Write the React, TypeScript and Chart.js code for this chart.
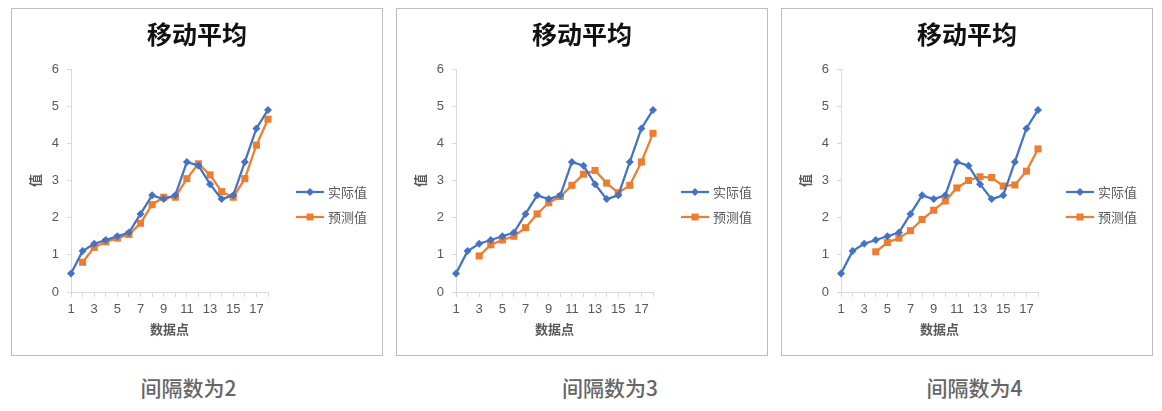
import { useEffect, useRef } from 'react';
import { Chart, registerables } from 'chart.js';

Chart.register(...registerables);

// data points 1..18
const pointLabels = ['1', '2', '3', '4', '5', '6', '7', '8', '9', '10', '11', '12', '13', '14', '15', '16', '17', '18'];
const actualValues = [0.5, 1.1, 1.3, 1.4, 1.5, 1.6, 2.1, 2.6, 2.5, 2.6, 3.5, 3.4, 2.9, 2.5, 2.6, 3.5, 4.4, 4.9];
// moving-average forecasts
const forecast2 = [null, 0.8, 1.2, 1.35, 1.45, 1.55, 1.85, 2.35, 2.55, 2.55, 3.05, 3.45, 3.15, 2.7, 2.55, 3.05, 3.95, 4.65];
const forecast3 = [null, null, 0.97, 1.27, 1.4, 1.5, 1.73, 2.1, 2.4, 2.57, 2.87, 3.17, 3.27, 2.93, 2.67, 2.87, 3.5, 4.27];
const forecast4 = [null, null, null, 1.08, 1.33, 1.45, 1.65, 1.95, 2.2, 2.45, 2.8, 3.0, 3.1, 3.08, 2.85, 2.88, 3.25, 3.85];
const seriesNames = ['实际值', '预测值'];
const chartTitle = '移动平均';
const xTitle = '数据点';
const yTitle = '值';
const captions = ['间隔数为2', '间隔数为3', '间隔数为4'];

const BLUE = '#4472C4';
const ORANGE = '#ED7D31';
const AXIS = '#d9d9d9';
const TEXT = '#595959';
const FONT = "'Liberation Sans', 'Noto Sans CJK SC', sans-serif";

// title centred on the whole canvas, legend drawn as Excel-style line + marker
const excelDecor = {
  id: 'excelDecor',
  afterDraw(chart: Chart) {
    const { ctx, chartArea } = chart;
    ctx.save();
    ctx.fillStyle = '#111';
    ctx.font = "bold 25px 'Noto Sans CJK SC', sans-serif";
    ctx.textAlign = 'center';
    ctx.textBaseline = 'middle';
    ctx.fillText(chartTitle, chart.width / 2, 25);
    ctx.restore();

    chart.data.datasets.forEach((ds: any, i: number) => {
      const y = chartArea.top + 123 + i * 25;
      const x0 = chartArea.right + 28;
      ctx.save();
      ctx.strokeStyle = ds.borderColor;
      ctx.lineWidth = 2.25;
      ctx.beginPath();
      ctx.moveTo(x0, y);
      ctx.lineTo(x0 + 28, y);
      ctx.stroke();
      ctx.fillStyle = ds.backgroundColor;
      const cx = x0 + 14;
      if (ds.pointStyle === 'rect') {
        ctx.fillRect(cx - 3.5, y - 3.5, 7, 7);
      } else {
        ctx.beginPath();
        ctx.moveTo(cx, y - 4);
        ctx.lineTo(cx + 4, y);
        ctx.lineTo(cx, y + 4);
        ctx.lineTo(cx - 4, y);
        ctx.closePath();
        ctx.fill();
      }
      ctx.fillStyle = TEXT;
      ctx.font = "13px 'Noto Sans CJK SC', sans-serif";
      ctx.textBaseline = 'middle';
      ctx.textAlign = 'left';
      ctx.fillText(ds.label, x0 + 32, y);
      ctx.restore();
    });
  },
};

function MovingAverageChart({ forecast }: { forecast: (number | null)[] }) {
  const chartRef = useRef<HTMLCanvasElement>(null);
  const chartInstance = useRef<Chart | null>(null);

  useEffect(() => {
    if (!chartRef.current) return;
    const ctx = chartRef.current.getContext('2d');
    if (!ctx) return;
    if (chartInstance.current) chartInstance.current.destroy();

    chartInstance.current = new Chart(ctx, {
      type: 'line',
      data: {
        labels: pointLabels,
        datasets: [
          {
            label: seriesNames[0],
            data: actualValues,
            borderColor: BLUE,
            backgroundColor: BLUE,
            borderWidth: 2.25,
            pointStyle: 'rectRot',
            pointRadius: 4,
            pointBorderWidth: 0,
            tension: 0,
          },
          {
            label: seriesNames[1],
            data: forecast,
            borderColor: ORANGE,
            backgroundColor: ORANGE,
            borderWidth: 2.25,
            pointStyle: 'rect',
            pointRadius: 5,
            pointBorderWidth: 0,
            tension: 0,
          },
        ],
      },
      options: {
        responsive: true,
        maintainAspectRatio: false,
        animation: false,
        layout: { padding: { left: 15, right: 114, top: 60, bottom: 18 } },
        plugins: {
          legend: { display: false },
          tooltip: { enabled: false },
          title: { display: false },
        },
        scales: {
          x: {
            type: 'category',
            offset: false,
            afterFit: (scale: any) => {
              scale.height = 45;
            },
            grid: { display: true, drawOnChartArea: false, drawTicks: true, tickLength: 5, color: AXIS, offset: false },
            border: { display: true, color: AXIS, width: 1 },
            ticks: {
              autoSkip: false,
              maxRotation: 0,
              padding: 5,
              color: TEXT,
              font: { family: FONT, size: 13 },
              callback: (_v: any, index: number) => (index % 2 === 0 ? pointLabels[index] : ''),
            },
            title: {
              display: true,
              text: xTitle,
              color: TEXT,
              font: { family: "'Noto Sans CJK SC', sans-serif", size: 13, weight: 'bold', lineHeight: 1.2 },
              padding: { top: 0, bottom: 0 },
            },
          },
          y: {
            min: 0,
            max: 6,
            afterFit: (scale: any) => {
              scale.width = 44;
            },
            grid: { display: true, drawOnChartArea: false, drawTicks: true, tickLength: 4, color: AXIS },
            border: { display: true, color: AXIS, width: 1 },
            ticks: {
              stepSize: 1,
              padding: 8,
              color: TEXT,
              font: { family: FONT, size: 13 },
            },
            title: {
              display: true,
              text: yTitle,
              color: TEXT,
              font: { family: "'Noto Sans CJK SC', sans-serif", size: 13, weight: 'bold', lineHeight: 1.2 },
              padding: { top: 0, bottom: 0 },
            },
          },
        },
      },
      plugins: [excelDecor],
    });

    return () => {
      if (chartInstance.current) {
        chartInstance.current.destroy();
        chartInstance.current = null;
      }
    };
  }, [forecast]);

  return (
    <div style={{ position: 'relative', width: 370, height: 346 }}>
      <canvas ref={chartRef}></canvas>
    </div>
  );
}

const panels = [
  { forecast: forecast2, left: 11, captionX: 188.5 },
  { forecast: forecast3, left: 396, captionX: 610 },
  { forecast: forecast4, left: 781, captionX: 974.5 },
];

export default function App() {
  return (
    <div style={{ position: 'absolute', left: 0, top: 0, width: 1162, height: 411, background: '#fff' }}>
      {panels.map((p, i) => (
        <div key={i}>
          <div
            style={{
              position: 'absolute',
              left: p.left,
              top: 8,
              width: 370,
              height: 346,
              border: '1px solid #bdbdbd',
              background: '#fff',
            }}
          >
            <MovingAverageChart forecast={p.forecast} />
          </div>
          <div
            style={{
              position: 'absolute',
              left: p.captionX - 100,
              top: 375,
              width: 200,
              lineHeight: '24px',
              textAlign: 'center',
              fontFamily: "'Noto Sans CJK SC', sans-serif",
              fontSize: 21,
              fontWeight: 500,
              color: '#666',
            }}
          >
            {captions[i]}
          </div>
        </div>
      ))}
    </div>
  );
}
